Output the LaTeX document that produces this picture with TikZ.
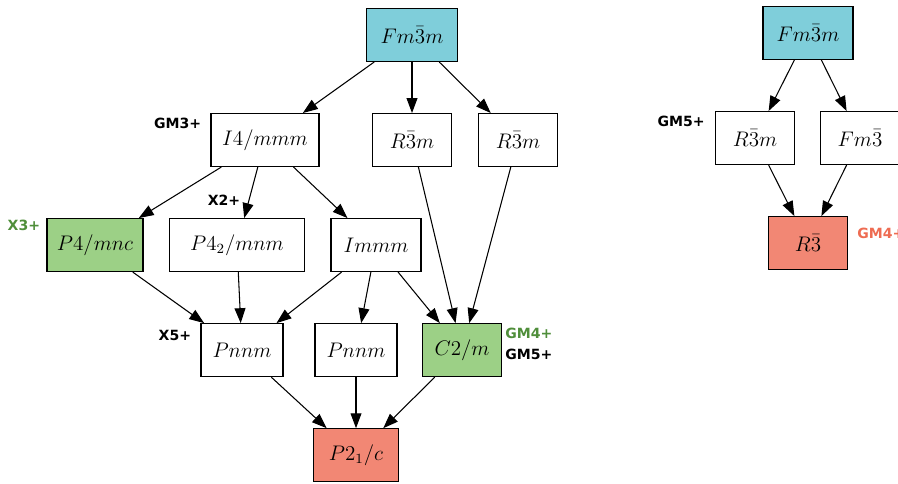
\documentclass[tikz,border=0pt]{standalone}
\usepackage{fontspec}
\setsansfont{DejaVu Sans}
\usetikzlibrary{arrows.meta, positioning}
\definecolor{rootcyan}{HTML}{7FCEDA}
\definecolor{keptgreen}{HTML}{9CD086}
\definecolor{finalred}{HTML}{F28774}
\definecolor{tagGreen}{HTML}{4F8E3A}
\definecolor{tagRed}{HTML}{EE6C52}

\begin{document}
\begin{tikzpicture}[node distance=1.02cm]
		\tikzstyle{SubGroup} = [rectangle, minimum width=1.58cm, minimum height=1.06cm, text centered, draw=black, line width=0.6pt, fill=white, font=\fontsize{12}{14}\selectfont]
		\tikzstyle{RootGroup} = [SubGroup, fill=rootcyan]
		\tikzstyle{KeptGroup} = [SubGroup, fill=keptgreen]
		\tikzstyle{FinalGroup} = [SubGroup, fill=finalred]
		\tikzstyle{IrrepName} = [inner sep=0pt, font=\sffamily\bfseries\fontsize{8}{9}\selectfont]
		\tikzstyle{arrow} = [line width=0.6pt, -{Triangle[length=8.5pt, width=6.2pt]}]
		
		\useasboundingbox (0,0) rectangle (17.96,-9.68);
		
		% left tree
		\node (fmmA) [RootGroup, minimum width=1.82cm] at (8.24,-0.70) {$Fm\bar{3}m$};
		
		\node (imA) [SubGroup, minimum width=2.16cm, below = of fmmA, xshift=-2.94cm] {$I4/mmm$};
		\node (rmA) [SubGroup, below = of fmmA] {$R\bar{3}m$};
		\node (rmB) [SubGroup, below = of fmmA, xshift=2.12cm] {$R\bar{3}m$};
		
		\node (pmnc) [KeptGroup, minimum width=1.92cm, below = of imA, xshift=-3.40cm] {$P4/mnc$};
		\node (pmnm) [SubGroup, minimum width=2.70cm, below = of imA, xshift=-0.56cm] {$P4_2/mnm$};
		\node (immm) [SubGroup, minimum width=1.80cm, below = of imA, xshift=2.22cm] {$Immm$};
		
		\node (pnnmA) [SubGroup, minimum width=1.64cm, below = of pmnm, xshift=0.10cm] {$Pnnm$};
		\node (pnnmB) [SubGroup, minimum width=1.64cm, below = of immm, xshift=-0.40cm] {$Pnnm$};
		\node (ctm) [KeptGroup, below = of immm, xshift=1.72cm] {$C2/m$};
		
		\node (pc) [FinalGroup, minimum width=1.70cm, below = of pnnmB] {$P2_1/c$};
		
		\node (tagGMiiiA) [IrrepName, anchor=east, xshift=-0.18cm, yshift=-0.20cm] at (imA.north west) {GM3+};
		\node (tagXii) [IrrepName, anchor=east, xshift=0.07cm, yshift=0.36cm] at (pmnm.north) {X2+};
		\node (tagXiii) [IrrepName, anchor=east, text=tagGreen, xshift=-0.12cm, yshift=-0.14cm] at (pmnc.north west) {X3+};
		\node (tagXv) [IrrepName, anchor=east, xshift=-0.18cm, yshift=-0.24cm] at (pnnmA.north west) {X5+};
		\node (tagGMivA) [IrrepName, anchor=west, text=tagGreen, xshift=0.06cm, yshift=-0.20cm] at (ctm.north east) {GM4+};
		\node (tagGMvA) [IrrepName, anchor=west, xshift=0.06cm, yshift=-0.62cm] at (ctm.north east) {GM5+};
		
		\draw[arrow] (fmmA) -- (imA);
		\draw[arrow] (fmmA) -- (rmA);
		\draw[arrow] (fmmA) -- (rmB);
		\draw[arrow] (imA) -- (pmnc);
		\draw[arrow] (imA) -- (pmnm);
		\draw[arrow] (imA) -- (immm);
		\draw[arrow] (pmnc) -- (pnnmA);
		\draw[arrow] (pmnm) -- (pnnmA);
		\draw[arrow] (immm) -- (pnnmA);
		\draw[arrow] (immm) -- (pnnmB);
		\draw[arrow] (immm) -- (ctm);
		\draw[arrow] (rmA) -- (ctm);
		\draw[arrow] (rmB) -- (ctm);
		\draw[arrow] (pnnmA) -- (pc);
		\draw[arrow] (pnnmB) -- (pc);
		\draw[arrow] (ctm) -- (pc);
		
		% right tree
		\node (fmmB) [RootGroup, minimum width=1.80cm] at (16.16,-0.66) {$Fm\bar{3}m$};
		\node (rmC) [SubGroup, below = of fmmB, xshift=-1.06cm] {$R\bar{3}m$};
		\node (fmC) [SubGroup, below = of fmmB, xshift=1.04cm] {$Fm\bar{3}$};
		\node (rC) [FinalGroup, below = of rmC, xshift=1.06cm] {$R\bar{3}$};
		
		\node (tagGMvB) [IrrepName, anchor=east, xshift=-0.20cm, yshift=-0.20cm] at (rmC.north west) {GM5+};
		\node (tagGMivB) [IrrepName, anchor=west, text=tagRed, xshift=0.18cm, yshift=-0.34cm] at (rC.north east) {GM4+};
		
		\draw[arrow] (fmmB) -- (rmC);
		\draw[arrow] (fmmB) -- (fmC);
		\draw[arrow] (rmC) -- (rC);
		\draw[arrow] (fmC) -- (rC);
\end{tikzpicture}
\end{document}
